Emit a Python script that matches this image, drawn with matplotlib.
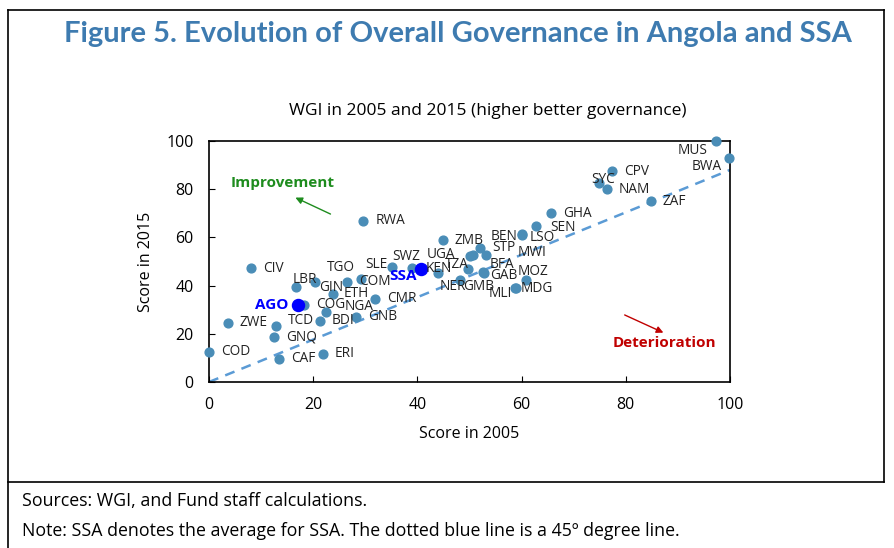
import matplotlib
matplotlib.use('agg')
import matplotlib.pyplot as plt

countries = ['COD', 'ZWE', 'CAF', 'GNQ', 'TCD', 'ERI', 'BDI', 'COG', 'NGA', 'GNB',
             'CMR', 'CIV', 'LBR', 'GIN', 'ETH', 'COM', 'TGO', 'SLE', 'SWZ', 'KEN',
             'UGA', 'TZA', 'NER', 'GMB', 'BFA', 'GAB', 'STP', 'MWI', 'BEN', 'ZMB',
             'LSO', 'SEN', 'GHA', 'MOZ', 'MLI', 'MDG', 'RWA', 'SYC', 'CPV', 'NAM',
             'ZAF', 'MUS', 'BWA']
score_2005 = [0.0, 3.6, 13.4, 12.5, 12.9, 21.9, 21.3, 18.2, 22.5, 28.2,
              31.9, 8.1, 16.7, 20.3, 23.8, 26.5, 29.2, 35.1, 39.0, 44.0,
              50.1, 50.7, 48.2, 49.7, 52.6, 52.8, 52.0, 53.2, 60.1, 44.9,
              60.1, 62.8, 65.6, 60.8, 58.7, 58.9, 29.6, 74.9, 77.4, 76.4,
              84.8, 97.3, 99.8]
score_2015 = [12.5, 24.6, 9.6, 18.8, 23.3, 11.7, 25.4, 32.1, 29.2, 27.1,
              34.6, 47.1, 39.6, 41.7, 36.7, 41.7, 42.9, 47.9, 47.5, 45.4,
              52.1, 52.9, 42.5, 46.7, 45.8, 45.4, 55.8, 52.5, 61.3, 58.8,
              60.8, 64.6, 70.0, 42.5, 39.0, 39.2, 67.0, 82.5, 87.5, 80.0,
              75.0, 100.0, 93.0]

ago = (17.1, 32.0)
ssa = (40.7, 46.7)

# label offsets in pixels (dx, dy up, alignment); default is just right of the dot
offs = {'SLE': (-4, 2, 'right'), 'SWZ': (-20, 11, 'left'), 'KEN': (-13, 4, 'left'),
        'UGA': (-15, 2, 'right'), 'TZA': (-4, -10, 'right'), 'NER': (-20, -7, 'left'),
        'GMB': (-5, -17, 'left'), 'BFA': (7, 7, 'left'), 'GAB': (6, -3, 'left'),
        'STP': (12, 0, 'left'), 'MWI': (31, 3, 'left'), 'BEN': (-5, -2, 'right'),
        'LSO': (8, -2, 'left'), 'LBR': (-3, 7, 'left'), 'TGO': (-34, 11, 'left'),
        'GIN': (4, -6, 'left'), 'NGA': (18, 5, 'left'), 'TCD': (12, 5, 'left'),
        'MLI': (-3, -5, 'right'), 'MDG': (5, -1, 'left'), 'MOZ': (-8, 8, 'left'),
        'MUS': (-38, -10, 'left'), 'BWA': (-37, -9, 'left'), 'SYC': (-8, 4, 'left'),
        'SEN': (14, -1, 'left'), 'ETH': (11, 0, 'left')}

fig = plt.figure(figsize=(8.95, 5.48), dpi=100)
plt.rcParams['font.family'] = ['Open Sans', 'DejaVu Sans']

# frame around the figure
for xs, ys in [([8, 8], [10, 548]), ([8, 884], [10, 10]), ([884, 884], [10, 482]), ([8, 884], [482, 482])]:
    fig.add_artist(plt.Line2D([x / 895 for x in xs], [1 - y / 548 for y in ys], color='black', lw=1.2))

fig.text(0.512, 0.938, 'Figure 5. Evolution of Overall Governance in Angola and SSA', ha='center', va='center',
         fontsize=21, fontweight='bold', color='#3E7BB0', family='Lato')
fig.text(0.545, 0.797, 'WGI in 2005 and 2015 (higher better governance)', ha='center', va='center', fontsize=12.5)
fig.text(0.025, 0.085, 'Sources: WGI, and Fund staff calculations.', ha='left', va='center', fontsize=12.8)
fig.text(0.025, 0.031, 'Note: SSA denotes the average for SSA. The dotted blue line is a 45º degree line.',
         ha='left', va='center', fontsize=12.8)

ax = fig.add_axes([209 / 895, 166 / 548, 521 / 895, 241 / 548])
ax.plot([0, 100], [0, 88], ls='--', color='#5B9BD5', lw=1.8, dashes=(4, 3), zorder=1)
ax.scatter(score_2005, score_2015, s=40, color='#4A8DB7', zorder=3, clip_on=False)
ax.scatter([ago[0], ssa[0]], [ago[1], ssa[1]], s=75, color='#0000FF', zorder=4)

for c, x, y in zip(countries, score_2005, score_2015):
    dx, dy, ha = offs.get(c, (12, 0, 'left'))
    ax.annotate(c, (x, y), xytext=(dx * 0.72, dy * 0.72), textcoords='offset points',
                ha=ha, va='center', fontsize=9.8, color='#222222', zorder=5)
ax.annotate('AGO', ago, xytext=(-7, 0), textcoords='offset points', ha='right', va='center',
            fontsize=11, fontweight='bold', color='#0000FF')
ax.annotate('SSA', ssa, xytext=(-3, -5), textcoords='offset points', ha='right', va='center',
            fontsize=11, fontweight='bold', color='#0000FF')

ax.text(4.2, 82.5, 'Improvement', fontsize=11, fontweight='bold', color='#1E8C1E', va='center')
ax.annotate('', xy=(16.1, 77.0), xytext=(23.8, 69.2),
            arrowprops=dict(arrowstyle='-|>', color='#1E8C1E', lw=1, mutation_scale=10))
ax.text(77.5, 16.2, 'Deterioration', fontsize=11, fontweight='bold', color='#C00000', va='center')
ax.annotate('', xy=(87.7, 20.0), xytext=(79.3, 28.3),
            arrowprops=dict(arrowstyle='-|>', color='#C00000', lw=1, mutation_scale=10))

ax.set_xlim(0, 100)
ax.set_ylim(0, 100)
ax.set_xticks(range(0, 101, 20))
ax.set_yticks(range(0, 101, 20))
ax.tick_params(direction='in', labelsize=11.5, length=4, pad=11)
for s in ax.spines.values():
    s.set_linewidth(1.2)
ax.set_xlabel('Score in 2005', fontsize=11.5, labelpad=9)
ax.set_ylabel('Score in 2015', fontsize=11.5, labelpad=9)

fig.savefig('out.png', dpi=100)
